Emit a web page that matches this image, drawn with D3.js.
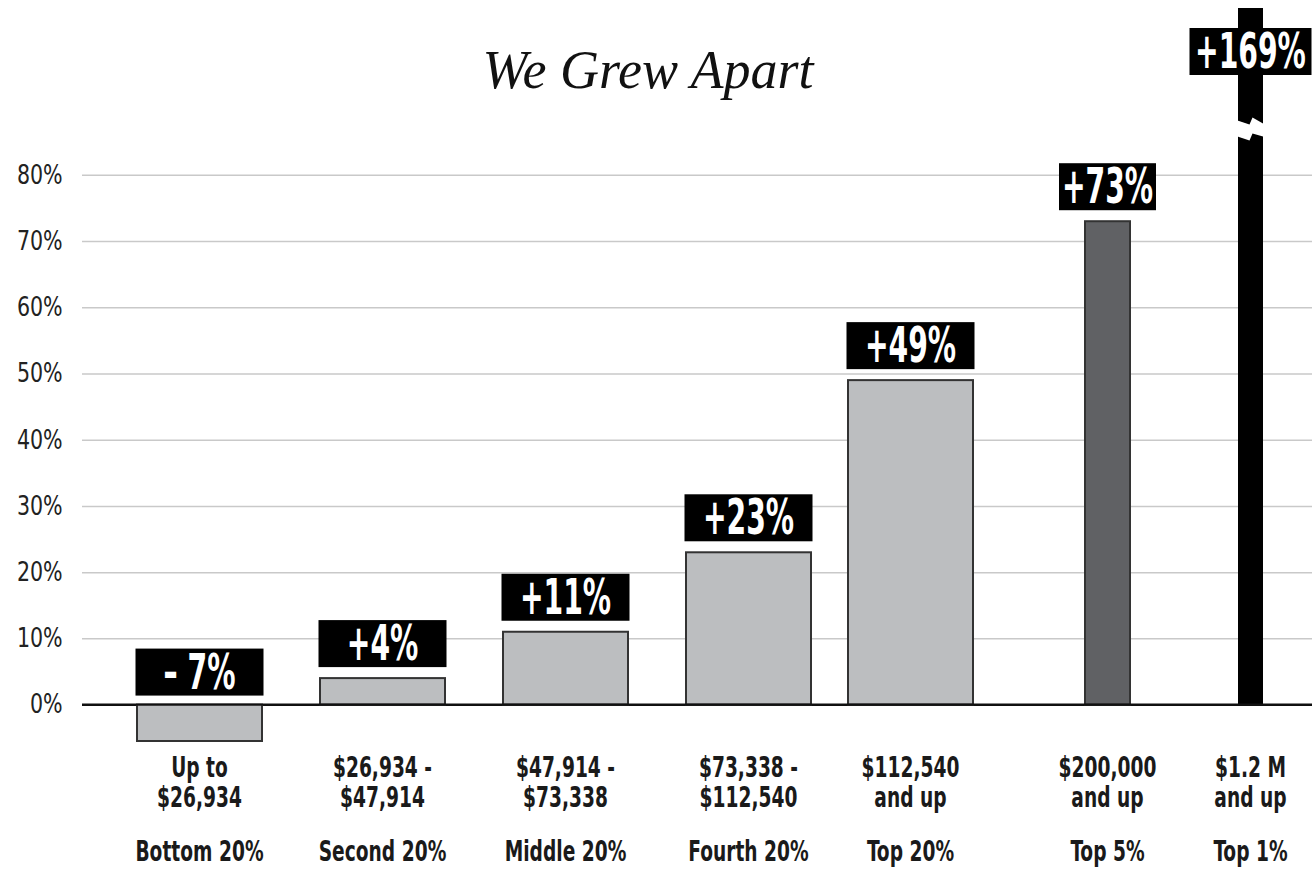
<!DOCTYPE html>
<html>
<head>
<meta charset="utf-8">
<script src="https://cdn.jsdelivr.net/npm/d3@7"></script>
<style>
  body { margin: 0; background: #fff; }
  svg { display: block; }
  .cond { font-family: 'DejaVu Sans Condensed', 'DejaVu Sans', sans-serif; font-stretch: condensed; }
</style>
</head>
<body>
<svg width="1312" height="869"></svg>
<script>
// data
const groups = ['Bottom 20%', 'Second 20%', 'Middle 20%', 'Fourth 20%', 'Top 20%', 'Top 5%', 'Top 1%']
const rangeTop = ['Up to', '$26,934 -', '$47,914 -', '$73,338 -', '$112,540', '$200,000', '$1.2 M']
const rangeBottom = ['$26,934', '$47,914', '$73,338', '$112,540', 'and up', 'and up', 'and up']
const values = [-7, 4, 11, 23, 49, 73, 169]
const valueLabels = ['\u2013 7%', '+4%', '+11%', '+23%', '+49%', '+73%', '+169%']
const yTicks = [0, 10, 20, 30, 40, 50, 60, 70, 80]

const W = 1312, H = 869
const svg = d3.select('svg')

// layout
const x = d3.scaleOrdinal()
  .domain(groups)
  .range([199.5, 382.5, 565.5, 748.5, 910.5, 1107.5, 1250.5])
const barWidth = d => d === 'Top 5%' ? 45 : d === 'Top 1%' ? 25 : 125
const barFill = d => d === 'Top 5%' ? '#606164' : d === 'Top 1%' ? '#000' : '#bcbec0'

// plot area runs past the top of the frame, so clamp
const y = d3.scaleLinear().domain([-5.5, 105.2]).range([741, 8]).clamp(true)

// title
svg.append('text')
  .attr('x', 648).attr('y', 88)
  .attr('text-anchor', 'middle')
  .style('font-family', "'Liberation Serif', 'DejaVu Serif', serif")
  .style('font-style', 'italic')
  .style('font-size', '54px')
  .style('fill', '#111')
  .text('We Grew Apart')

// y axis + gridlines
const yAxis = svg.append('g')
  .attr('transform', 'translate(82,0)')
  .call(d3.axisLeft(y).tickValues(yTicks).tickSize(-(W - 82)).tickPadding(22).tickFormat(d => d + '%'))
yAxis.select('.domain').remove()
yAxis.selectAll('.tick line')
  .attr('stroke', d => d === 0 ? '#111' : '#c9c9c9')
  .attr('stroke-width', d => d === 0 ? 2 : 1.5)
yAxis.selectAll('.tick text')
  .attr('class', 'cond')
  .attr('transform', 'scale(0.88,1)')
  .style('font-size', '26px')
  .style('fill', '#222')

// bars
const data = groups.map((g, i) => ({ g, v: values[i], label: valueLabels[i] }))

svg.append('g')
  .selectAll('rect')
  .data(data)
  .join('rect')
    .attr('x', d => x(d.g) - barWidth(d.g) / 2)
    .attr('width', d => barWidth(d.g))
    .attr('y', d => Math.min(y(d.v), y(0)))
    .attr('height', d => Math.abs(y(d.v) - y(0)))
    .attr('fill', d => barFill(d.g))
    .attr('stroke', d => d.g === 'Top 1%' ? 'none' : '#333')
    .attr('stroke-width', 2)

// redraw zero line on top
svg.append('line')
  .attr('x1', 82).attr('x2', W)
  .attr('y1', y(0)).attr('y2', y(0))
  .attr('stroke', '#111').attr('stroke-width', 2)

// broken top bar: white zigzag gap
const breakY = y(87)
const bx = x('Top 1%')
svg.append('path')
  .attr('d', `M${bx - 16},${breakY - 9} L${bx - 1},${breakY - 4} L${bx + 2},${breakY - 11} L${bx + 16},${breakY - 3}
              L${bx + 16},${breakY + 9} L${bx + 2},${breakY + 5} L${bx - 1},${breakY + 12} L${bx - 16},${breakY + 7} Z`)
  .attr('fill', '#fff')

// value label boxes
const boxH = 47
const boxW = d => d.g === 'Top 5%' ? 97 : d.g === 'Top 1%' ? 122 : 128
const boxBottom = d => {
  if (d.v < 0) return y(0) - 9
  if (d.v > y.domain()[1]) return 75
  return y(d.v) - 11
}

const labels = svg.append('g')
  .selectAll('g')
  .data(data)
  .join('g')
    .attr('transform', d => `translate(${x(d.g)},${boxBottom(d)})`)

labels.append('rect')
  .attr('x', d => -boxW(d) / 2)
  .attr('y', -boxH)
  .attr('width', d => boxW(d))
  .attr('height', boxH)
  .attr('fill', '#000')

labels.append('text')
  .attr('class', 'cond')
  .attr('text-anchor', 'middle')
  .attr('y', -7)
  .attr('transform', 'scale(0.64,1)')
  .style('font-size', '49px')
  .style('font-weight', 'bold')
  .style('fill', '#fff')
  .text(d => d.label)

// category labels
const cats = svg.append('g')
  .selectAll('g')
  .data(data)
  .join('g')
    .attr('transform', d => `translate(${x(d.g)},0)`)
    .attr('class', 'cond')
    .style('font-size', '28px')
    .style('font-weight', 'bold')
    .style('fill', '#1a1a1a')
    .attr('text-anchor', 'middle')

cats.append('text').attr('y', 777).attr('transform', 'scale(0.74,1)').text((d, i) => rangeTop[i])
cats.append('text').attr('y', 807).attr('transform', 'scale(0.74,1)').text((d, i) => rangeBottom[i])
cats.append('text').attr('y', 861).attr('transform', 'scale(0.74,1)').text(d => d.g)
</script>
</body>
</html>
